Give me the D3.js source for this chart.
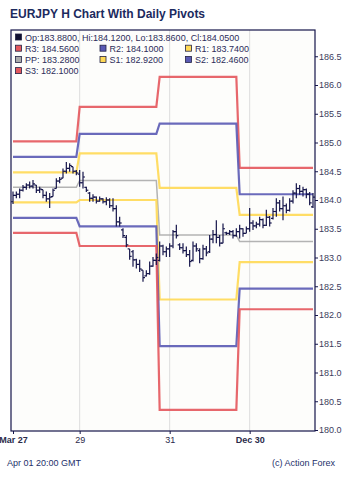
<!DOCTYPE html>
<html>
<head>
<meta charset="utf-8">
<script src="https://cdn.jsdelivr.net/npm/d3@7"></script>
<style>
  body { margin: 0; background: #fff; }
  svg { display: block; font-family: "Liberation Sans", Arial, sans-serif; }
</style>
</head>
<body>
<div id="chart"></div>
<script>
// hourly bars, 4 trading days
const dayLen = [20, 24, 24, 23];

const open = [
  183.97,184.08,184.10,184.17,184.22,184.26,184.24,184.26,184.17,184.18,184.08,184.02,184.06,184.20,184.33,184.38,184.50,184.55,184.58,184.50,
  184.45,184.30,184.22,184.12,184.03,184.05,183.98,184.02,183.97,184.00,183.90,183.85,183.62,183.48,183.35,183.15,183.10,182.96,182.88,182.78,182.68,182.72,182.85,182.95,
  182.95,183.20,183.10,183.15,183.20,183.45,183.22,183.17,183.12,183.05,182.95,183.20,183.12,182.98,183.15,183.10,183.32,183.40,183.35,183.25,183.43,183.42,183.45,183.38,
  183.45,183.50,183.42,183.50,183.60,183.55,183.58,183.66,183.56,183.70,183.68,183.80,183.95,183.85,183.90,183.82,183.98,184.12,184.20,184.15,184.18,184.10,183.88
];
const high = [
  184.15,184.15,184.20,184.26,184.29,184.32,184.35,184.26,184.23,184.18,184.15,184.12,184.20,184.38,184.40,184.55,184.66,184.64,184.58,184.52,
  184.52,184.49,184.23,184.14,184.10,184.06,184.06,184.03,184.05,184.03,184.03,183.91,183.71,183.51,183.39,183.15,183.13,182.98,182.96,182.78,182.78,182.93,183.01,183.07,
  183.28,183.22,183.19,183.25,183.48,183.57,183.25,183.25,183.19,183.13,183.28,183.25,183.16,183.22,183.20,183.39,183.48,183.65,183.39,183.59,183.45,183.48,183.48,183.51,
  183.57,183.51,183.54,183.86,183.65,183.62,183.71,183.68,183.83,183.72,183.86,184.03,184.00,184.06,183.94,184.03,184.17,184.29,184.26,184.23,184.20,184.14,184.12
];
const low = [
  183.93,184.03,184.03,184.15,184.18,184.20,184.20,184.12,184.12,184.03,183.97,183.86,184.06,184.20,184.29,184.38,184.46,184.49,184.46,184.43,
  184.23,184.20,184.14,183.97,183.97,183.94,183.97,183.94,183.91,183.86,183.80,183.54,183.54,183.34,183.18,182.96,182.84,182.81,182.75,182.58,182.67,182.70,182.84,182.87,
  182.93,183.04,183.01,183.01,183.16,183.33,183.13,183.07,183.01,182.84,182.93,183.10,182.90,182.96,183.02,183.08,183.25,183.25,183.19,183.25,183.39,183.39,183.33,183.36,
  183.33,183.36,183.42,183.45,183.48,183.51,183.54,183.51,183.55,183.54,183.66,183.71,183.80,183.65,183.77,183.80,183.94,184.03,184.09,184.06,184.03,183.91,183.86
];
const close = [
  184.08,184.10,184.17,184.22,184.26,184.24,184.28,184.17,184.19,184.08,184.02,184.05,184.17,184.33,184.36,184.50,184.55,184.60,184.50,184.47,
  184.30,184.40,184.17,184.03,184.05,183.98,184.02,183.97,184.00,183.90,183.85,183.62,183.60,183.38,183.22,183.02,182.96,182.88,182.80,182.65,182.72,182.85,182.95,183.00,
  183.20,183.10,183.15,183.20,183.45,183.38,183.17,183.12,183.05,182.93,183.20,183.15,182.98,183.15,183.08,183.32,183.40,183.35,183.25,183.50,183.42,183.45,183.38,183.45,
  183.50,183.42,183.50,183.60,183.55,183.58,183.66,183.56,183.70,183.60,183.80,183.95,183.85,183.90,183.82,183.98,184.12,184.20,184.15,184.18,184.10,183.95,184.05
];

// daily pivot levels, one value per day
const R3 = [185.02, 185.62, 186.14, 184.56];
const R2 = [184.75, 185.15, 185.33, 184.10];
const R1 = [184.48, 184.81, 184.21, 183.74];
const PP = [184.22, 184.34, 183.39, 183.28];
const S1 = [183.96, 184.00, 182.27, 182.92];
const S2 = [183.69, 183.54, 181.46, 182.46];
const S3 = [183.43, 183.20, 180.35, 182.10];

const tickIdx = [0, 20, 47, 71];
const tickLabels = ["Mar 27", "29", "31", "Dec 30"];
const boldTicks = ["Mar 27", "Dec 30"];

const W = 350, H = 481;
const L = 11, R = 315, T = 30, B = 431;
const navy = "#15154a";

const pivots = [
  {name: "R3", vals: R3, color: "#e4575c", w: 2.2},
  {name: "R2", vals: R2, color: "#5a5ab4", w: 2.2},
  {name: "R1", vals: R1, color: "#ffd954", w: 2.2},
  {name: "PP", vals: PP, color: "#ababab", w: 1.5},
  {name: "S1", vals: S1, color: "#ffd954", w: 2.2},
  {name: "S2", vals: S2, color: "#5a5ab4", w: 2.2},
  {name: "S3", vals: S3, color: "#e4575c", w: 2.2}
];

// which day each bar belongs to
const dayOf = [];
dayLen.forEach((n, d) => { for (let k = 0; k < n; k++) dayOf.push(d); });
const idx = d3.range(open.length);

const x = d3.scaleLinear().domain([0, open.length - 1]).range([13, 313]);
const y = d3.scaleLinear().domain([180, 186.5]).range([430, 56.25]);

const svg = d3.select("#chart").append("svg")
  .attr("width", W).attr("height", H);

svg.append("text")
  .attr("x", 10).attr("y", 18)
  .attr("font-size", 12).attr("font-weight", "bold")
  .attr("fill", "#1c2a5e")
  .text("EURJPY H Chart With Daily Pivots");

svg.append("rect")
  .attr("x", L).attr("y", T).attr("width", R - L).attr("height", B - T)
  .attr("fill", "#fdfdfb");

// vertical grid at labelled ticks
svg.append("g").selectAll("line")
  .data(tickIdx.slice(1))
  .join("line")
  .attr("x1", d => x(d)).attr("x2", d => x(d))
  .attr("y1", T).attr("y2", B)
  .attr("stroke", "#dddddd").attr("stroke-width", 1);

// pivot lines, stepping at each new day
svg.append("g").selectAll("path")
  .data(pivots)
  .join("path")
  .attr("d", p => d3.line().x(i => x(i)).y(i => y(p.vals[dayOf[i]]))(idx))
  .attr("fill", "none")
  .attr("stroke", p => p.color)
  .attr("stroke-width", p => p.w)
  .attr("stroke-opacity", 0.9);

// OHLC bars
const bars = svg.append("g")
  .attr("stroke", navy).attr("stroke-width", 1.2)
  .selectAll("g").data(idx).join("g");

bars.append("line")
  .attr("x1", i => x(i)).attr("x2", i => x(i))
  .attr("y1", i => y(high[i])).attr("y2", i => y(low[i]));
bars.append("line")
  .attr("x1", i => x(i) - 2).attr("x2", i => x(i))
  .attr("y1", i => y(open[i])).attr("y2", i => y(open[i]));
bars.append("line")
  .attr("x1", i => x(i)).attr("x2", i => x(i) + 2)
  .attr("y1", i => y(close[i])).attr("y2", i => y(close[i]));

// frame
svg.append("rect")
  .attr("x", L).attr("y", T).attr("width", R - L).attr("height", B - T)
  .attr("fill", "none").attr("stroke", navy).attr("stroke-width", 1.2);

// axes
const yAxis = svg.append("g")
  .attr("transform", `translate(${R},0)`)
  .call(d3.axisRight(y)
    .tickValues(d3.range(180, 186.51, 0.5))
    .tickFormat(d3.format(".1f"))
    .tickSize(3).tickPadding(1));
yAxis.select(".domain").remove();
yAxis.selectAll("line").attr("stroke", navy);
yAxis.selectAll("text").attr("font-size", 9).attr("fill", "#3b3b5c")
  .attr("font-family", "Liberation Sans, Arial, sans-serif");

const xAxis = svg.append("g")
  .attr("transform", `translate(0,${B})`)
  .call(d3.axisBottom(x)
    .tickValues(tickIdx)
    .tickFormat((d, k) => tickLabels[k])
    .tickSize(3).tickPadding(3));
xAxis.select(".domain").remove();
xAxis.selectAll("line").attr("stroke", navy);
xAxis.selectAll("text")
  .attr("font-size", 9).attr("fill", "#2a2a4a")
  .attr("font-family", "Liberation Sans, Arial, sans-serif")
  .attr("font-weight", (d, k) => boldTicks.includes(tickLabels[k]) ? "bold" : "normal");

// legend
const last = open.length - 1;
const fmt = v => v.toFixed(4);
const pivItem = k => ({color: pivots[k].color, label: `${pivots[k].name}: ${fmt(pivots[k].vals[3])}`});
const legendRows = [
  [{color: "#101030", label: `Op:${fmt(open[last])}, Hi:${fmt(high[last])}, Lo:${fmt(low[last])}, Cl:${fmt(close[last])}`}],
  [0, 1, 2].map(pivItem),
  [3, 4, 5].map(pivItem),
  [6].map(pivItem)
];
const colX = [15.5, 100, 185.5];
const leg = svg.append("g");
legendRows.forEach((row, r) => {
  const by = 40.5 + r * 11.2;
  row.forEach((item, c) => {
    leg.append("rect")
      .attr("x", colX[c]).attr("y", by - 6.5)
      .attr("width", 6).attr("height", 6)
      .attr("fill", item.color).attr("stroke", "#222244").attr("stroke-width", 0.8);
    leg.append("text")
      .attr("x", colX[c] + 9.5).attr("y", by)
      .attr("font-size", 9).attr("fill", "#2c2c5a")
      .text(item.label);
  });
});

// footer
svg.append("text")
  .attr("x", 7).attr("y", 466)
  .attr("font-size", 9).attr("fill", "#24306a")
  .text("Apr 01 20:00 GMT");
svg.append("text")
  .attr("x", 335).attr("y", 466).attr("text-anchor", "end")
  .attr("font-size", 9).attr("fill", "#24306a")
  .text("(c) Action Forex");
</script>
</body>
</html>
